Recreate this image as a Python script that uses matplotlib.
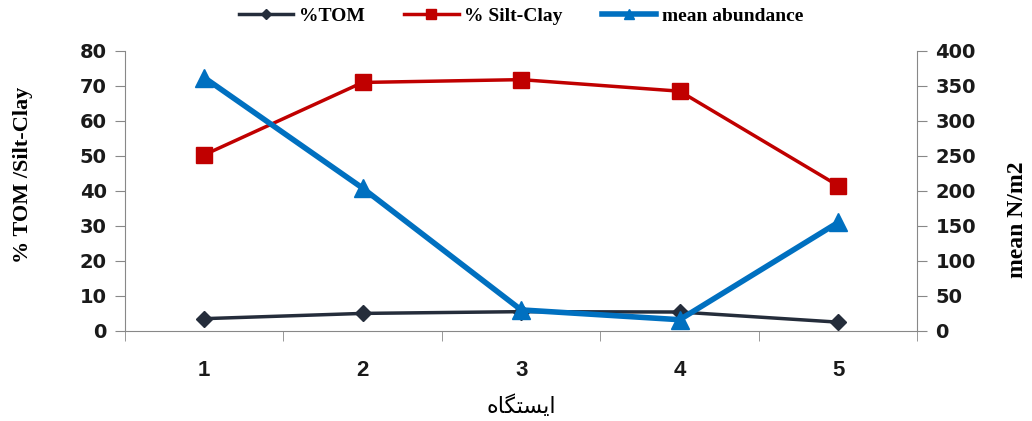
import matplotlib
matplotlib.use('Agg')
import matplotlib.pyplot as plt
from matplotlib import font_manager

# data
stations = [1, 2, 3, 4, 5]
tom = [3.5, 5.0, 5.5, 5.4, 2.5]
silt_clay = [50.3, 71.0, 71.8, 68.5, 41.5]
abundance = [362, 204, 30, 16, 155]

x_label = '\ufe8d\ufbfe\ufeb4\ufe98\ufb95\ufe8e\ufee9'  # ایستگاه, shaped forms
x_label = x_label[::-1]
left_label = '% TOM /Silt-Clay'
right_label = 'mean N/m2'

names = {f.name for f in font_manager.fontManager.ttflist}
narrow = 'Liberation Sans Narrow' if 'Liberation Sans Narrow' in names else 'Liberation Sans'

fig = plt.figure(figsize=(10.32, 4.21), dpi=100)
ax = fig.add_axes([0.121, 0.214, 0.768, 0.665])
ax2 = ax.twinx()

l1, = ax.plot(stations, tom, color='#252d3b', lw=2.5, marker='D', ms=8, label='%TOM')
l2, = ax.plot(stations, silt_clay, color='#c00000', lw=2.5, marker='s', ms=11, label='% Silt-Clay')
l3, = ax2.plot(stations, abundance, color='#0070c0', lw=4, marker='^', ms=13, label='mean abundance')

ax.set_xlim(0.5, 5.5)
ax.set_ylim(0, 80)
ax2.set_ylim(0, 400)
ax.set_yticks(range(0, 81, 10))
ax2.set_yticks(range(0, 401, 50))
ax.set_xticks(stations)
ax.set_xticks([0.5, 1.5, 2.5, 3.5, 4.5, 5.5], minor=True)

gray = '#888888'
for a in (ax, ax2):
    for s in a.spines.values():
        s.set_color(gray)
    a.spines['top'].set_visible(False)
ax.spines['right'].set_visible(False)
ax2.spines['left'].set_visible(False)
ax2.spines['bottom'].set_visible(False)

ax.tick_params(axis='x', which='major', length=0, pad=21)
ax.tick_params(axis='x', which='minor', length=7, color=gray, direction='out')
ax.tick_params(axis='y', length=7, color=gray, pad=6)
ax2.tick_params(axis='y', length=7, color=gray, pad=6)

for t in ax.get_yticklabels() + ax2.get_yticklabels():
    t.set_fontfamily('DejaVu Sans')
    t.set_fontweight('bold')
    t.set_fontsize(14)
    t.set_color('#1a1a1a')
for t in ax.get_xticklabels():
    t.set_fontfamily(narrow)
    t.set_fontweight('bold')
    t.set_fontsize(16)
    t.set_color('#1a1a1a')

ax.set_ylabel(left_label, fontfamily='Liberation Serif', fontweight='bold', fontsize=16)
ax.yaxis.set_label_coords(-0.116, 0.557)
ax2.set_ylabel(right_label, fontfamily='Liberation Serif', fontweight='bold', fontsize=17)
ax2.yaxis.set_label_coords(1.113, 0.396)
ax.set_xlabel(x_label, fontfamily=['DejaVu Sans'], fontsize=16)
ax.xaxis.set_label_coords(0.5, -0.225)

fig.legend(handles=[l1, l2, l3], loc='upper center', bbox_to_anchor=(0.505, 1.025), ncol=3,
           frameon=False, prop={'family': 'Liberation Serif', 'weight': 'bold', 'size': 14},
           markerscale=0.6, handlelength=2.8, columnspacing=2.0, handletextpad=0.3)

fig.savefig('out.png', dpi=100)
